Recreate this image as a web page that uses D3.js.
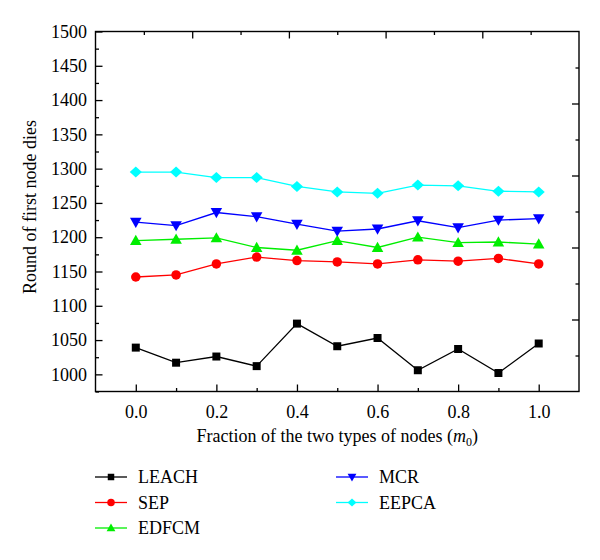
<!DOCTYPE html>
<html><head><meta charset="utf-8">
<script src="https://cdn.jsdelivr.net/npm/d3@7"></script>
<style>body{margin:0;background:#fff}svg{display:block}svg text{font-family:"Liberation Serif","Times New Roman",serif !important;fill:#000}</style>
</head><body><svg id="c" width="600" height="560" font-family="Liberation Serif, serif"></svg>
<script>
const xValues = [0.0,0.1,0.2,0.3,0.4,0.5,0.6,0.7,0.8,0.9,1.0];
const seriesNames = ["LEACH","SEP","EDFCM","MCR","EEPCA"];
const leach = [1039,1017,1026,1012,1074,1041,1053,1006,1037,1002,1045];
const sep   = [1142,1145,1161,1171,1166,1164,1161,1167,1165,1169,1161];
const edfcm = [1195,1197,1199,1185,1181,1195,1185,1200,1192,1193,1190];
const mcr   = [1222,1217,1236,1230,1219,1209,1212,1224,1214,1225,1227];
const eepca = [1295,1295,1287,1287,1274,1266,1264,1276,1275,1267,1266];
const yTicks = [1000,1050,1100,1150,1200,1250,1300,1350,1400,1450,1500];
const xTicks = [0.0,0.2,0.4,0.6,0.8,1.0];
const colors = ["#000000","#ff0000","#00ee00","#0000ff","#00ffff"];
const symbols = [d3.symbolSquare, d3.symbolCircle, "triUp", "triDown", "diamond"];

const svg = d3.select("#c");
const L=95.5, R=579, T=31.5, B=391.5;
const x = d3.scaleLinear().domain([-0.1,1.1]).range([L,R]);
const y = d3.scaleLinear().domain([975,1500]).range([B,T]);
const xTop = d3.scaleLinear().domain([0,1]).range([L,R]);
const yRight = d3.scaleLinear().domain([0,10]).range([B,T]);

function markerPath(kind, s){
  if(kind==="triUp") return `M0,${-s*0.55}L${s*0.55},${s*0.42}L${-s*0.55},${s*0.42}Z`;
  if(kind==="triDown") return `M0,${s*0.55}L${s*0.55},${-s*0.42}L${-s*0.55},${-s*0.42}Z`;
  if(kind==="diamond") return `M0,${-s*0.5}L${s*0.55},0L0,${s*0.5}L${-s*0.55},0Z`;
  if(kind===d3.symbolSquare) return d3.symbol(kind, s*s)();
  return d3.symbol(kind, Math.PI*(s/2)*(s/2))();
}
const plotSizes = [8,9.5,10.5,10.5,11];
const legSizes = [6.5,7.5,8,8,8];

const g = svg.append("g");
function ax(axisFn, scale, vals, size, tf){
  return axisFn(scale).tickValues(vals).tickSizeInner(size).tickSizeOuter(0).tickFormat(tf||"");
}
function clean(s){ s.attr("font-family",null).attr("font-size",null); s.select(".domain").remove(); }
const minorY = d3.range(975,1501,25).filter(v=>v%50!==0);
const minorX = [0.1,0.3,0.5,0.7,0.9];
// left
g.append("g").attr("transform",`translate(${L},0)`).call(ax(d3.axisLeft,y,yTicks,-7,d3.format("d"))).call(clean).call(s=>s.selectAll("text").attr("x",-8.5).style("font-size","18px"));
g.append("g").attr("transform",`translate(${L},0)`).call(ax(d3.axisLeft,y,minorY,-3.5)).call(clean);
// bottom
g.append("g").attr("transform",`translate(0,${B})`).call(ax(d3.axisBottom,x,xTicks,-7,d3.format(".1f"))).call(clean).call(s=>s.selectAll("text").attr("y",14).style("font-size","18px"));
g.append("g").attr("transform",`translate(0,${B})`).call(ax(d3.axisBottom,x,minorX,-3.5)).call(clean);
// top
g.append("g").attr("transform",`translate(0,${T})`).call(ax(d3.axisTop,xTop,[0.2,0.4,0.6,0.8],-7)).call(clean);
g.append("g").attr("transform",`translate(0,${T})`).call(ax(d3.axisTop,xTop,[0.1,0.3,0.5,0.7,0.9],-3.5)).call(clean);
// right
g.append("g").attr("transform",`translate(${R},0)`).call(ax(d3.axisRight,yRight,[2,4,6,8],-7)).call(clean);
g.append("g").attr("transform",`translate(${R},0)`).call(ax(d3.axisRight,yRight,[1,3,5,7,9],-3.5)).call(clean);
g.selectAll(".tick line").attr("stroke","#000").attr("stroke-width",1.3);
svg.append("rect").attr("x",L).attr("y",T).attr("width",R-L).attr("height",B-T).attr("fill","none").attr("stroke","#000").attr("stroke-width",1.4);

// series
const allSeries = [leach,sep,edfcm,mcr,eepca];
const line = d3.line().x((d,i)=>x(xValues[i])).y(d=>y(d));
allSeries.forEach((vals,k)=>{
  const sg = svg.append("g");
  sg.append("path").datum(vals).attr("d",line).attr("fill","none").attr("stroke",colors[k]).attr("stroke-width",1.3);
  sg.selectAll("path.m").data(vals).join("path").attr("class","m")
    .attr("transform",(d,i)=>`translate(${x(xValues[i])},${y(d)})`)
    .attr("d",markerPath(symbols[k],plotSizes[k])).attr("fill",colors[k]);
});

// axis titles
svg.append("text").attr("transform","translate(36,207) rotate(-90)").attr("text-anchor","middle").style("font-size","18px").text("Round of first node dies");
const xt = svg.append("text").attr("x",(L+R)/2).attr("y",442).attr("text-anchor","middle").style("font-size","18px");
xt.append("tspan").text("Fraction of the two types of nodes (");
xt.append("tspan").style("font-style","italic").text("m");
xt.append("tspan").attr("dy",4).style("font-size","12px").text("0");
xt.append("tspan").attr("dy",-4).text(")");

// legend
const legPos = [[95,477],[95,502.5],[95,528],[336,477],[336,502.5]];
seriesNames.forEach((n,k)=>{
  const [lx,ly]=legPos[k];
  const lg = svg.append("g");
  lg.append("line").attr("x1",lx).attr("x2",lx+32).attr("y1",ly).attr("y2",ly).attr("stroke",colors[k]).attr("stroke-width",1.3);
  lg.append("path").attr("transform",`translate(${lx+16},${ly})`).attr("d",markerPath(symbols[k],legSizes[k])).attr("fill",colors[k]);
  lg.append("text").attr("x",lx+43).attr("y",ly+6).style("font-size","18px").text(n);
});
</script></body></html>
